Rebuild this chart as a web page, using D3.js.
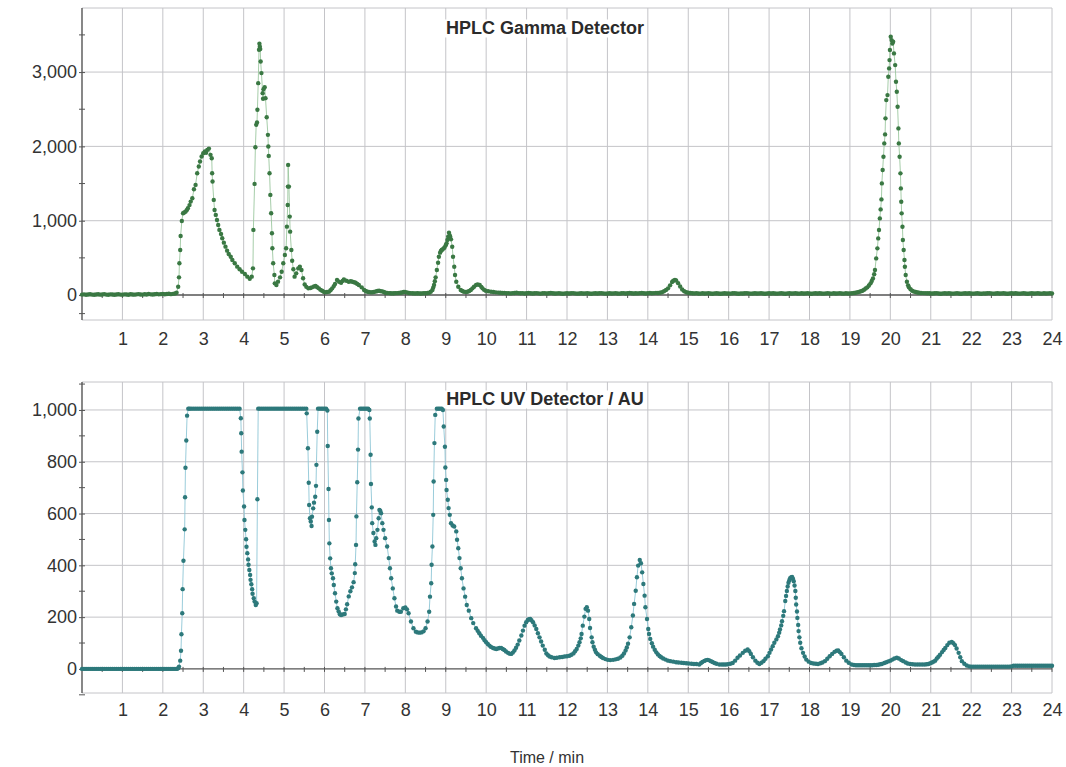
<!DOCTYPE html>
<html>
<head>
<meta charset="utf-8">
<script src="https://cdn.jsdelivr.net/npm/d3@7"></script>
<style>
  body { margin: 0; background: #fff; }
  svg { display: block; }
</style>
</head>
<body>
<svg id="chart"></svg>
<script>
let width = 1066;
let height = 767;

// tick labels
let timeTicks = [1, 2, 3, 4, 5, 6, 7, 8, 9, 10, 11, 12, 13, 14, 15, 16, 17, 18, 19, 20, 21, 22, 23, 24];
let halfMinuteTicks = [0.5, 1, 1.5, 2, 2.5, 3, 3.5, 4, 4.5, 5, 5.5, 6, 6.5, 7, 7.5, 8, 8.5, 9, 9.5, 10, 10.5, 11, 11.5, 12,
  12.5, 13, 13.5, 14, 14.5, 15, 15.5, 16, 16.5, 17, 17.5, 18, 18.5, 19, 19.5, 20, 20.5, 21, 21.5, 22, 22.5, 23, 23.5, 24];
let gammaTicks = [0, 1000, 2000, 3000];
let gammaMinorTicks = [-250, 500, 1500, 2500, 3500];
let uvTicks = [0, 200, 400, 600, 800, 1000];
let uvMinorTicks = [-100, 100, 300, 500, 700, 900, 1100];

// gamma detector, [time min, counts]
let gammaBaseStart = [[0,6],[0.05,9],[0.1,4],[0.15,8],[0.2,11],[0.25,6],[0.3,3],[0.35,8],[0.4,10],[0.45,5],[0.5,7],[0.55,12],
  [0.6,6],[0.65,4],[0.7,9],[0.75,7],[0.8,3],[0.85,8],[0.9,11],[0.95,6],[1,5],[1.05,9],[1.1,7],[1.15,4],[1.2,10],[1.25,8],
  [1.3,5],[1.35,9],[1.4,12],[1.45,7],[1.5,6],[1.55,10],[1.6,8],[1.65,13],[1.7,9],[1.75,7],[1.8,11],[1.85,14],[1.9,9],
  [1.95,12],[2,15],[2.05,10],[2.1,13],[2.15,17],[2.2,12],[2.25,16],[2.3,20]];
let gammaEarlyPeaks = [[2.34,30],[2.38,112],[2.4,238],[2.41,427],[2.43,606],[2.44,795],[2.47,997],[2.5,1100],[2.53,1110],
  [2.56,1122],[2.59,1140],[2.62,1167],[2.66,1210],[2.69,1257],[2.73,1302],[2.77,1423],[2.81,1482],[2.85,1639],[2.89,1729],
  [2.92,1796],[2.96,1863],[3,1908],[3.04,1931],[3.07,1915],[3.1,1953],[3.14,1970],[3.18,1886],[3.21,1841],[3.22,1639],
  [3.23,1527],[3.26,1280],[3.28,1145],[3.31,1078],[3.34,1010],[3.37,943],[3.4,876],[3.44,822],[3.47,763],[3.51,705],
  [3.55,651],[3.59,597],[3.63,552],[3.68,516],[3.72,471],[3.78,427],[3.84,382],[3.9,346],[3.96,314],[4.03,283],[4.09,247],
  [4.15,220],[4.2,247],[4.23,359],[4.24,876],[4.27,1495],[4.29,1989],[4.31,2290],[4.33,2321],[4.34,2492],[4.36,2851],
  [4.38,3300],[4.39,3381],[4.4,3340],[4.41,3309],[4.42,3143],[4.44,2986],[4.47,2716],[4.48,2640],[4.49,2770],[4.52,2797],
  [4.54,2649],[4.57,2393],[4.6,2155],[4.61,1998],[4.62,1872],[4.64,1639],[4.66,1347],[4.68,1100],[4.7,831],[4.71,629],
  [4.73,427],[4.76,269],[4.77,157],[4.81,135],[4.85,180],[4.9,238],[4.94,314],[4.98,427],[5.02,539],[5.05,629],[5.07,920],
  [5.09,1212],[5.095,1459],[5.1,1751],[5.12,1459],[5.14,1055],[5.15,853],[5.18,606],[5.2,462],[5.23,346],[5.26,247],
  [5.3,292],[5.35,359],[5.39,382],[5.43,337],[5.47,225],[5.51,143],[5.55,110],[5.6,90],[5.65,95],[5.69,103],[5.74,115],
  [5.78,121],[5.82,105],[5.86,90],[5.9,70],[5.94,58],[5.98,45],[6.02,36],[6.06,40],[6.11,45],[6.15,65],[6.19,90],
  [6.23,120],[6.26,148],[6.31,202],[6.36,179],[6.41,166],[6.45,190],[6.48,211],[6.54,193],[6.6,179],[6.65,185],[6.69,179],
  [6.73,172],[6.77,166],[6.81,150],[6.85,135],[6.92,103],[6.98,67],[7.02,55],[7.06,45],[7.1,40],[7.14,36],[7.18,38],
  [7.22,40],[7.27,48],[7.31,55],[7.35,58],[7.39,52],[7.43,49],[7.47,40],[7.51,31],[7.55,28],[7.6,25],[7.64,24],[7.68,22],
  [7.72,24],[7.76,25],[7.8,26],[7.84,27],[7.88,30],[7.92,35],[7.96,40],[7.99,42],[8.04,35],[8.09,27],[8.13,25],[8.18,23],
  [8.22,22],[8.26,22],[8.3,24],[8.34,22],[8.38,20],[8.42,22],[8.46,25],[8.5,24],[8.55,28],[8.59,31],[8.63,45],[8.67,67],
  [8.69,100],[8.71,135],[8.73,185],[8.75,238],[8.78,336],[8.81,435],[8.83,516],[8.86,570],[8.88,592],[8.9,605],[8.92,614],
  [8.95,628],[8.97,641],[9,670],[9.02,695],[9.04,740],[9.06,785],[9.08,839],[9.1,800],[9.11,785],[9.13,749],[9.16,650],
  [9.18,516],[9.21,381],[9.23,269],[9.26,179],[9.31,112],[9.37,67],[9.41,55],[9.45,45],[9.5,42],[9.54,45],[9.58,55],
  [9.62,67],[9.66,90],[9.7,112],[9.75,135],[9.79,143],[9.84,135],[9.88,110],[9.91,90],[9.95,70],[9.99,58],[10.05,50],
  [10.12,45],[10.18,40],[10.24,36]];
let gammaMidBase = [[10.3,33],[10.35,30],[10.4,27],[10.45,29],[10.5,24],[10.55,26],[10.6,22],[10.65,25],[10.7,28],[10.75,30],
  [10.8,26],[10.85,23],[10.9,25],[10.95,21],[11,24],[11.05,27],[11.1,23],[11.15,20],[11.2,24],[11.25,26],[11.3,22],[11.35,19],
  [11.4,23],[11.45,25],[11.5,21],[11.55,24],[11.6,28],[11.65,24],[11.7,20],[11.75,22],[11.8,25],[11.85,21],[11.9,18],
  [11.95,22],[12,24],[12.05,20],[12.1,23],[12.15,26],[12.2,22],[12.25,19],[12.3,21],[12.35,24],[12.4,20],[12.45,22],
  [12.5,25],[12.55,21],[12.6,18],[12.65,22],[12.7,24],[12.75,20],[12.8,23],[12.85,26],[12.9,22],[12.95,19],[13,21],
  [13.05,24],[13.1,20],[13.15,22],[13.2,25],[13.25,21],[13.3,19],[13.35,23],[13.4,25],[13.45,21],[13.5,24],[13.55,27],
  [13.6,23],[13.65,20],[13.7,24],[13.75,22],[13.8,25],[13.85,28],[13.9,24],[13.95,21],[14,25],[14.05,27],[14.1,24],
  [14.15,26],[14.2,29],[14.25,28]];
let gammaPeak15 = [[14.3,30],[14.35,38],[14.4,50],[14.45,68],[14.5,90],[14.55,130],[14.6,175],[14.63,192],[14.67,202],
  [14.7,195],[14.75,160],[14.8,115],[14.85,75],[14.9,50],[14.95,38],[15,30]];
let gammaLateBase = [[15.05,27],[15.1,24],[15.15,22],[15.2,25],[15.25,21],[15.3,19],[15.35,23],[15.4,20],[15.45,22],
  [15.5,25],[15.55,21],[15.6,18],[15.65,22],[15.7,24],[15.75,20],[15.8,17],[15.85,21],[15.9,24],[15.95,20],[16,22],
  [16.05,19],[16.1,23],[16.15,25],[16.2,21],[16.25,18],[16.3,22],[16.35,20],[16.4,23],[16.45,26],[16.5,22],[16.55,19],
  [16.6,21],[16.65,24],[16.7,20],[16.75,22],[16.8,25],[16.85,21],[16.9,18],[16.95,22],[17,24],[17.05,20],[17.1,23],
  [17.15,21],[17.2,19],[17.25,22],[17.3,25],[17.35,21],[17.4,18],[17.45,22],[17.5,24],[17.55,20],[17.6,22],[17.65,25],
  [17.7,21],[17.75,19],[17.8,23],[17.85,20],[17.9,22],[17.95,25],[18,21],[18.05,18],[18.1,22],[18.15,24],[18.2,20],
  [18.25,23],[18.3,21],[18.35,19],[18.4,22],[18.45,25],[18.5,21],[18.55,19],[18.6,23],[18.65,20],[18.7,22],[18.75,25],
  [18.8,21],[18.85,19],[18.9,23],[18.95,21]];
let gammaPeak20 = [[19,22],[19.05,24],[19.1,28],[19.14,31],[19.19,38],[19.24,45],[19.28,52],[19.31,58],[19.35,72],[19.39,88],
  [19.43,103],[19.47,128],[19.51,157],[19.54,188],[19.57,224],[19.6,280],[19.62,336],[19.65,493],[19.68,628],[19.7,762],
  [19.72,874],[19.74,1031],[19.76,1152],[19.78,1287],[19.79,1502],[19.81,1682],[19.83,1861],[19.85,2040],[19.87,2161],
  [19.88,2377],[19.9,2623],[19.93,2690],[19.95,2937],[19.97,3049],[19.98,3161],[19.99,3296],[20.01,3475],[20.03,3430],
  [20.05,3385],[20.07,3408],[20.09,3251],[20.12,3094],[20.14,2870],[20.16,2735],[20.18,2533],[20.2,2242],[20.21,2040],
  [20.23,1861],[20.25,1637],[20.26,1435],[20.27,1256],[20.28,1099],[20.3,919],[20.31,740],[20.33,605],[20.35,471],
  [20.36,381],[20.38,269],[20.41,179],[20.44,130],[20.46,103],[20.5,78],[20.54,58],[20.58,48],[20.63,40],[20.67,35],
  [20.71,31],[20.76,28],[20.81,26],[20.86,25],[20.91,24],[20.96,23],[21,22]];
let gammaTail = [[21.05,20],[21.1,23],[21.15,25],[21.2,21],[21.25,18],[21.3,22],[21.35,24],[21.4,20],[21.45,23],[21.5,21],
  [21.55,19],[21.6,22],[21.65,25],[21.7,21],[21.75,18],[21.8,22],[21.85,24],[21.9,20],[21.95,23],[22,21],[22.05,19],
  [22.1,22],[22.15,25],[22.2,21],[22.25,18],[22.3,22],[22.35,20],[22.4,23],[22.45,26],[22.5,22],[22.55,19],[22.6,21],
  [22.65,24],[22.7,20],[22.75,22],[22.8,25],[22.85,21],[22.9,18],[22.95,22],[23,24],[23.05,20],[23.1,23],[23.15,21],
  [23.2,19],[23.25,22],[23.3,25],[23.35,21],[23.4,18],[23.45,22],[23.5,24],[23.55,20],[23.6,22],[23.65,25],[23.7,21],
  [23.75,19],[23.8,23],[23.85,20],[23.9,22],[23.95,25],[24,21]];

// UV detector, [time min, AU]
let uvBaseStart = [[0,0],[0.05,0],[0.1,0],[0.15,0],[0.2,0],[0.25,0],[0.3,0],[0.35,0],[0.4,0],[0.45,0],[0.5,0],[0.55,0],
  [0.6,0],[0.65,0],[0.7,0],[0.75,0],[0.8,0],[0.85,0],[0.9,0],[0.95,0],[1,0],[1.05,0],[1.1,0],[1.15,0],[1.2,0],[1.25,0],
  [1.3,0],[1.35,0],[1.4,0],[1.45,0],[1.5,0],[1.55,0],[1.6,0],[1.65,0],[1.7,0],[1.75,0],[1.8,0],[1.85,0],[1.9,0],[1.95,0],
  [2,0],[2.05,0],[2.1,0],[2.15,0],[2.2,0],[2.25,0],[2.3,0],[2.35,0]];
let uvSaturated = [[2.38,3],[2.4,9],[2.43,32],[2.45,70],[2.46,134],[2.48,215],[2.49,308],[2.51,418],[2.54,539],[2.55,663],
  [2.56,777],[2.58,882],[2.6,978],[2.63,1005],[2.66,1005],[2.7,1005],[2.75,1005],[2.8,1005],[2.85,1005],[2.9,1005],
  [2.95,1005],[3,1005],[3.05,1005],[3.1,1005],[3.15,1005],[3.2,1005],[3.25,1005],[3.3,1005],[3.35,1005],[3.4,1005],
  [3.45,1005],[3.5,1005],[3.55,1005],[3.6,1005],[3.65,1005],[3.7,1005],[3.75,1005],[3.8,1005],[3.85,1005],[3.9,1005],
  [3.93,968],[3.94,910],[3.95,839],[3.97,759],[3.98,689],[4.01,627],[4.02,575],[4.04,537],[4.06,501],[4.07,472],[4.09,447],
  [4.11,423],[4.12,402],[4.14,382],[4.16,363],[4.17,344],[4.19,327],[4.21,308],[4.22,290],[4.25,273],[4.27,260],[4.3,247],
  [4.32,254],[4.34,655],[4.36,1005],[4.4,1005],[4.45,1005],[4.5,1005],[4.55,1005],[4.6,1005],[4.65,1005],[4.7,1005],
  [4.75,1005],[4.8,1005],[4.85,1005],[4.9,1005],[4.95,1005],[5,1005],[5.05,1005],[5.1,1005],[5.15,1005],[5.2,1005],
  [5.25,1005],[5.3,1005],[5.35,1005],[5.4,1005],[5.45,1005],[5.5,1005],[5.55,1005],[5.56,987],[5.59,852],[5.61,719],
  [5.62,633],[5.64,582],[5.66,569],[5.68,552],[5.69,588],[5.72,620],[5.74,642],[5.77,665],[5.79,707],[5.8,788],[5.82,916],
  [5.84,1005],[5.88,1005],[5.92,1005],[5.96,1005],[6,1005],[6.04,1005],[6.07,998],[6.08,861],[6.1,695],[6.11,575],
  [6.12,485],[6.14,427],[6.16,389],[6.18,369],[6.21,350],[6.23,324],[6.26,292],[6.29,260],[6.32,234],[6.35,222],[6.38,211],
  [6.41,208],[6.45,210],[6.5,212],[6.53,230],[6.56,250],[6.6,280],[6.64,300],[6.68,315],[6.72,335],[6.75,370],[6.76,404],
  [6.78,479],[6.79,589],[6.81,721],[6.83,847],[6.84,967],[6.88,1005],[6.92,1005],[6.96,1005],[7,1005],[7.04,1005],
  [7.08,1005],[7.11,1000],[7.12,967],[7.14,827],[7.15,714],[7.17,624],[7.18,563],[7.21,525],[7.24,492],[7.26,479],
  [7.28,505],[7.31,537],[7.34,582],[7.36,614],[7.38,610],[7.4,601],[7.43,563],[7.46,537],[7.5,505],[7.55,473],[7.59,428],
  [7.62,389],[7.65,350],[7.69,311],[7.73,273],[7.77,241],[7.8,225],[7.85,221],[7.89,221],[7.95,234],[8,237],[8.04,230],
  [8.08,215],[8.14,183],[8.2,157],[8.26,144],[8.3,141],[8.35,140],[8.4,141],[8.45,145],[8.5,157],[8.55,183],[8.59,221],
  [8.61,279],[8.64,331],[8.65,402],[8.67,473],[8.69,595],[8.7,724],[8.72,872],[8.74,981],[8.78,1005],[8.82,1005],
  [8.86,1005],[8.9,1005],[8.93,1000],[8.95,936],[8.98,858],[8.99,778],[9.01,730],[9.02,691],[9.05,653],[9.07,621],
  [9.1,595],[9.13,563],[9.17,554],[9.21,550],[9.26,531],[9.28,499],[9.31,466],[9.34,428],[9.37,389],[9.4,350],[9.44,311],
  [9.48,279],[9.52,247],[9.57,225],[9.63,196],[9.68,177]];
let uvMidPeaks = [[9.75,157],[9.79,147],[9.83,138],[9.87,128],[9.92,120],[9.96,111],[10,103],[10.04,96],[10.08,90],[10.12,85],
  [10.17,81],[10.21,79],[10.25,77],[10.29,79],[10.33,81],[10.37,81],[10.41,77],[10.45,73],[10.49,67],[10.54,62],[10.58,59],
  [10.62,58],[10.66,63],[10.7,71],[10.74,82],[10.78,94],[10.82,110],[10.87,129],[10.91,148],[10.95,167],[10.99,180],
  [11.03,189],[11.06,192],[11.09,193],[11.12,188],[11.16,180],[11.2,168],[11.24,154],[11.28,138],[11.32,122],[11.36,106],
  [11.4,90],[11.45,74],[11.49,60],[11.53,53],[11.57,48],[11.62,45],[11.69,42],[11.75,43],[11.82,45],[11.88,46],[11.94,48],
  [12,49],[12.06,51],[12.11,55],[12.16,60],[12.2,68],[12.24,77],[12.28,90],[12.31,103],[12.34,118],[12.36,135],[12.39,167],
  [12.43,202],[12.46,232],[12.49,238],[12.52,225],[12.55,193],[12.57,158],[12.61,122],[12.63,103],[12.66,86],[12.69,74],
  [12.72,64],[12.76,57],[12.81,51],[12.85,46],[12.89,42],[12.95,38],[13.01,35],[13.07,34],[13.14,35],[13.2,37],[13.26,39],
  [13.32,44],[13.37,51],[13.41,60],[13.45,71],[13.48,83],[13.51,97],[13.55,122],[13.59,161],[13.63,206],[13.66,251],
  [13.7,302],[13.73,354],[13.76,399],[13.8,421],[13.83,408],[13.86,373],[13.89,328],[13.92,283],[13.94,238],[13.98,193],
  [14.01,154],[14.03,135],[14.06,116],[14.1,99],[14.13,86],[14.17,74],[14.21,64],[14.25,56],[14.29,50],[14.33,45],
  [14.38,40],[14.44,36],[14.5,32],[14.56,30],[14.63,28],[14.7,26],[14.76,25],[14.83,24],[14.89,23],[14.95,22],[15.01,21],
  [15.08,20],[15.14,19],[15.2,19],[15.27,17]];
let uvLatePeaks = [[15.31,22],[15.35,27],[15.4,31],[15.44,34],[15.48,35],[15.52,33],[15.56,30],[15.6,27],[15.65,23],
  [15.7,20],[15.77,17],[15.83,17],[15.88,17],[15.93,17],[15.98,18],[16.04,20],[16.1,23],[16.16,32],[16.22,43],[16.28,52],
  [16.35,62],[16.41,70],[16.47,75],[16.51,68],[16.55,58],[16.6,45],[16.66,32],[16.71,24],[16.76,19],[16.81,24],[16.86,30],
  [16.91,39],[16.97,49],[17.01,62],[17.05,75],[17.09,88],[17.13,101],[17.18,114],[17.22,126],[17.25,140],[17.27,152],
  [17.3,168],[17.32,184],[17.35,205],[17.37,223],[17.4,262],[17.42,282],[17.44,301],[17.46,318],[17.48,333],[17.5,342],
  [17.52,350],[17.55,354],[17.57,355],[17.59,348],[17.61,339],[17.63,322],[17.65,301],[17.66,275],[17.67,249],[17.69,222],
  [17.7,197],[17.72,170],[17.73,146],[17.75,122],[17.77,101],[17.8,80],[17.84,62],[17.88,48],[17.92,36],[17.98,28],
  [18.04,23],[18.1,21],[18.16,20],[18.21,19],[18.27,22],[18.32,25],[18.38,30],[18.44,39],[18.5,49],[18.56,58],[18.62,66],
  [18.67,70],[18.71,71],[18.75,65],[18.79,58],[18.85,45],[18.91,32],[18.97,24],[19.04,17],[19.1,15],[19.15,14],[19.2,14],
  [19.25,14],[19.3,14],[19.35,14],[19.4,14],[19.45,14],[19.5,14],[19.55,14],[19.6,15],[19.65,15],[19.7,16],[19.75,18],
  [19.79,19],[19.85,23],[19.9,26],[19.95,29],[20,32],[20.05,36],[20.1,40],[20.16,43],[20.21,40],[20.27,34],[20.32,30],
  [20.38,25],[20.43,21],[20.49,19],[20.55,18],[20.61,17],[20.67,17],[20.73,17],[20.79,17],[20.85,17],[20.9,18],[20.94,19],
  [20.99,22],[21.03,25],[21.07,28],[21.11,32],[21.15,40],[21.19,47],[21.23,55],[21.28,65],[21.32,73],[21.36,81],[21.41,92],
  [21.46,101],[21.52,104],[21.56,99],[21.6,92],[21.64,79],[21.69,62],[21.73,45],[21.77,30],[21.83,20],[21.89,13],[21.95,10]];
let uvTail = [[22,9],[22.05,9],[22.1,9],[22.15,9],[22.2,9],[22.25,9],[22.3,9],[22.35,9],[22.4,9],[22.45,9],[22.5,9],[22.55,9],
  [22.6,9],[22.65,9],[22.7,9],[22.75,9],[22.8,9],[22.85,9],[22.9,9],[22.95,9],[23,10],[23.05,12],[23.1,12],[23.15,12],
  [23.2,12],[23.25,12],[23.3,12],[23.35,12],[23.4,12],[23.45,12],[23.5,12],[23.55,12],[23.6,12],[23.65,12],[23.7,12],
  [23.75,12],[23.8,12],[23.85,12],[23.9,12],[23.95,12],[24,12]];

let gammaPoints = [].concat(gammaBaseStart, gammaEarlyPeaks, gammaMidBase, gammaPeak15, gammaLateBase, gammaPeak20, gammaTail);
let uvPoints = [].concat(uvBaseStart, uvSaturated, uvMidPeaks, uvLatePeaks, uvTail);

let font = "'Liberation Sans', Arial, sans-serif";
let svg = d3.select("#chart").attr("width", width).attr("height", height);

let xScale = d3.scaleLinear().domain([0, 24]).range([82, 1052]);

let panels = [
  {
    title: "HPLC Gamma Detector", titleY: 28, top: 8, bottom: 320, domain: [-336, 3862], labelPad: 12,
    ticks: gammaTicks, minor: gammaMinorTicks, points: gammaPoints,
    dot: "#3a7843", line: "#9cc79f"
  },
  {
    title: "HPLC UV Detector / AU", titleY: 399, top: 382, bottom: 693, domain: [-93, 1108], labelPad: 10,
    ticks: uvTicks, minor: uvMinorTicks, points: uvPoints,
    dot: "#2d797b", line: "#8fc6d6"
  }
];

// Draw one detector panel
function drawPanel(p) {
  let yScale = d3.scaleLinear().domain(p.domain).range([p.bottom, p.top]);
  let g = svg.append("g");
  let left = xScale.range()[0], right = xScale.range()[1];

  // grid lines
  g.selectAll(".hgrid")
    .data(p.ticks.filter((d) => d !== 0))
    .join("line")
    .attr("x1", left).attr("x2", right)
    .attr("y1", (d) => yScale(d)).attr("y2", (d) => yScale(d))
    .attr("stroke", "#c4c4c8").attr("stroke-width", 1);

  g.selectAll(".vgrid")
    .data(timeTicks)
    .join("line")
    .attr("x1", (d) => xScale(d)).attr("x2", (d) => xScale(d))
    .attr("y1", p.top).attr("y2", p.bottom)
    .attr("stroke", "#c4c4c8").attr("stroke-width", 1);

  g.append("line").attr("x1", left).attr("x2", right).attr("y1", p.top).attr("y2", p.top)
    .attr("stroke", "#c4c4c8");
  g.append("line").attr("x1", left).attr("x2", right).attr("y1", p.bottom).attr("y2", p.bottom)
    .attr("stroke", "#c4c4c8");

  // title
  let title = g.append("text")
    .attr("x", 545).attr("y", p.titleY).attr("dy", "0.36em")
    .attr("text-anchor", "middle")
    .style("font-family", font).style("font-size", "18px").style("font-weight", "bold")
    .style("fill", "#2b2b2b")
    .text(p.title);
  let bb = title.node().getBBox();
  g.insert("rect", "text")
    .attr("x", bb.x - 2).attr("y", bb.y + 1).attr("width", bb.width + 4).attr("height", bb.height - 2)
    .attr("fill", "#fff");

  // zero line with half-minute ticks
  let y0 = yScale(0);
  g.append("line").attr("x1", left).attr("x2", right).attr("y1", y0).attr("y2", y0)
    .attr("stroke", "#555").attr("stroke-width", 1.4);
  g.selectAll(".zt")
    .data(halfMinuteTicks)
    .join("line")
    .attr("x1", (d) => xScale(d)).attr("x2", (d) => xScale(d))
    .attr("y1", y0 - 2).attr("y2", y0 + 3)
    .attr("stroke", "#555").attr("stroke-width", 1);

  // left axis
  let yAxis = d3.axisLeft(yScale).tickValues(p.ticks).tickFormat(d3.format(",")).tickSize(3).tickPadding(2);
  let ya = g.append("g").attr("transform", `translate(${left},0)`).call(yAxis);
  ya.select(".domain").remove();
  ya.selectAll("line").attr("stroke", "#555").attr("x2", 3).attr("x1", -3);
  ya.selectAll("text").style("font-family", font).style("font-size", "18px").style("fill", "#333");
  g.append("line").attr("x1", left).attr("x2", left).attr("y1", p.top).attr("y2", p.bottom)
    .attr("stroke", "#555").attr("stroke-width", 1.4);
  g.selectAll(".minor")
    .data(p.minor)
    .join("line")
    .attr("x1", left - 3).attr("x2", left + 3)
    .attr("y1", (d) => yScale(d)).attr("y2", (d) => yScale(d))
    .attr("stroke", "#555");

  // time labels
  let xAxis = d3.axisBottom(xScale).tickValues(timeTicks).tickFormat(d3.format("d")).tickSize(0).tickPadding(p.labelPad);
  let xa = g.append("g").attr("transform", `translate(0,${p.bottom})`).call(xAxis);
  xa.select(".domain").remove();
  xa.selectAll("text").style("font-family", font).style("font-size", "18px").style("fill", "#333");

  // trace line and sample points
  let line = d3.line().x((d) => xScale(d[0])).y((d) => yScale(d[1]));
  g.append("path").datum(p.points)
    .attr("d", line).attr("fill", "none")
    .attr("stroke", p.line).attr("stroke-width", 0.9);

  g.selectAll(".pt")
    .data(p.points)
    .join("circle")
    .attr("cx", (d) => xScale(d[0]))
    .attr("cy", (d) => yScale(d[1]))
    .attr("r", 2.2)
    .attr("fill", p.dot);
}

panels.forEach(drawPanel);

svg.append("text")
  .attr("x", 547).attr("y", 757).attr("dy", "0.36em")
  .attr("text-anchor", "middle")
  .style("font-family", font).style("font-size", "16px").style("fill", "#333")
  .text("Time / min");
</script>
</body>
</html>
